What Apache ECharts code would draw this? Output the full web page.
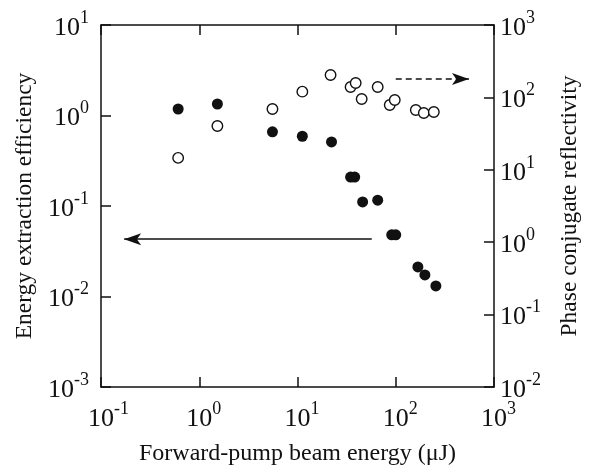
<!DOCTYPE html>
<html><head><meta charset="utf-8">
<script src="https://cdn.jsdelivr.net/npm/echarts@6/dist/echarts.min.js"></script>
<style>html,body{margin:0;padding:0;background:#fff}#c{width:590px;height:472px}</style>
</head><body><div id="c"></div>
<script>
// Filled circles: energy extraction efficiency (left axis)
const efficiencyEnergy = [0.61, 1.53, 5.56, 11.2, 22.2, 34.7, 38.2, 46, 65.5, 91, 100, 168, 198, 256];
const efficiencyValue  = [1.18, 1.34, 0.66, 0.59, 0.51, 0.209, 0.209, 0.111, 0.116, 0.048, 0.048, 0.0212, 0.0173, 0.0131];
// Open circles: phase conjugate reflectivity (right axis)
const reflectEnergy = [0.61, 1.53, 5.56, 11.2, 21.7, 34.7, 39.1, 45, 65.5, 86.9, 97.7, 160, 193, 244];
const reflectValue  = [14.6, 40.3, 69.2, 120, 204, 139, 158, 95, 139, 78.5, 92, 67, 61, 63];
// Arrows (from, to) in data coordinates
const leftArrowX = [57, 0.172];
const leftArrowY = [0.043, 0.043];
const rightArrowX = [100, 556];
const rightArrowY = [180, 180];
// Tick exponents
const xTickExp = [-1, 0, 1, 2, 3];
const leftTickExp = [-3, -2, -1, 0, 1];
const rightTickExp = [-2, -1, 0, 1, 2, 3];

const FF = '"Liberation Serif", "Times New Roman", serif';
const INK = '#111';
const rich = {
  b: {fontSize: 26, fontFamily: FF, color: INK, lineHeight: 32, verticalAlign: 'bottom'},
  s: {fontSize: 18, fontFamily: FF, color: INK, lineHeight: 18, verticalAlign: 'top'},
  p: {fontSize: 18, fontFamily: FF, color: 'rgba(0,0,0,0)', lineHeight: 18, verticalAlign: 'top'}
};
function fmt(list, pad) {
  return function (v) {
    const e = Math.round(Math.log10(v));
    if (list.indexOf(e) < 0) return '';
    return (pad ? '{p|' + e + '}' : '') + '{b|10}{s|' + e + '}';
  };
}
const axisLine = {show: true, lineStyle: {color: INK, width: 1.5}};
const tick = {show: true, inside: true, length: 10, lineStyle: {color: INK, width: 1.5}};

const chart = echarts.init(document.getElementById('c'), null, {renderer: 'canvas'});
chart.setOption({
  animation: false,
  backgroundColor: '#fff',
  grid: {left: 101, right: 96, top: 25, bottom: 85, show: false},
  xAxis: [{
    type: 'log', logBase: 10, min: 0.1, max: 1000, position: 'bottom',
    axisLine: axisLine, axisTick: tick, splitLine: {show: false}, minorTick: {show: false},
    axisLabel: {formatter: fmt(xTickExp, true), rich: rich, margin: 13, showMinLabel: true, showMaxLabel: true},
    name: 'Forward-pump beam energy (\u03BCJ)', nameLocation: 'middle', nameGap: 55,
    nameTextStyle: {fontFamily: FF, fontSize: 24, color: INK}
  }, {
    type: 'log', logBase: 10, min: 0.1, max: 1000, position: 'top',
    axisLine: axisLine, axisTick: tick, splitLine: {show: false}, axisLabel: {show: false}
  }],
  yAxis: [{
    type: 'log', logBase: 10, min: 0.001, max: 10, position: 'left',
    axisLine: axisLine, axisTick: tick, splitLine: {show: false},
    axisLabel: {formatter: fmt(leftTickExp, false), rich: rich, margin: 12, showMinLabel: true, showMaxLabel: true},
    name: 'Energy extraction efficiency', nameLocation: 'middle', nameGap: 64, nameRotate: 90,
    nameTextStyle: {fontFamily: FF, fontSize: 23.5, color: INK}
  }, {
    type: 'log', logBase: 10, min: 0.01, max: 1000, position: 'right',
    axisLine: axisLine, axisTick: tick, splitLine: {show: false},
    axisLabel: {formatter: fmt(rightTickExp, false), rich: rich, margin: 6, showMinLabel: true, showMaxLabel: true},
    name: 'Phase conjugate reflectivity', nameLocation: 'middle', nameGap: 64, nameRotate: 90,
    nameTextStyle: {fontFamily: FF, fontSize: 23.5, color: INK}
  }],
  series: [{
    type: 'scatter', xAxisIndex: 0, yAxisIndex: 0,
    data: efficiencyEnergy.map((x, i) => [x, efficiencyValue[i]]),
    symbol: 'circle', symbolSize: 11,
    itemStyle: {color: INK, borderColor: INK, borderWidth: 0, opacity: 1},
    markLine: {
      silent: true, symbol: ['none', 'arrow'], symbolSize: [9, 17],
      label: {show: false},
      lineStyle: {color: INK, width: 1.5, type: 'solid', opacity: 1},
      data: [[{coord: [leftArrowX[0], leftArrowY[0]]}, {coord: [leftArrowX[1], leftArrowY[1]]}]]
    }
  }, {
    type: 'scatter', xAxisIndex: 0, yAxisIndex: 1,
    data: reflectEnergy.map((x, i) => [x, reflectValue[i]]),
    symbol: 'circle', symbolSize: 10.5,
    itemStyle: {color: '#fff', borderColor: INK, borderWidth: 1.4, opacity: 1},
    markLine: {
      silent: true, symbol: ['none', 'arrow'], symbolSize: [9, 17],
      label: {show: false},
      lineStyle: {color: INK, width: 1.5, type: [6, 4], opacity: 1},
      data: [[{coord: [rightArrowX[0], rightArrowY[0]]}, {coord: [rightArrowX[1], rightArrowY[1]]}]]
    }
  }]
});
</script></body></html>
